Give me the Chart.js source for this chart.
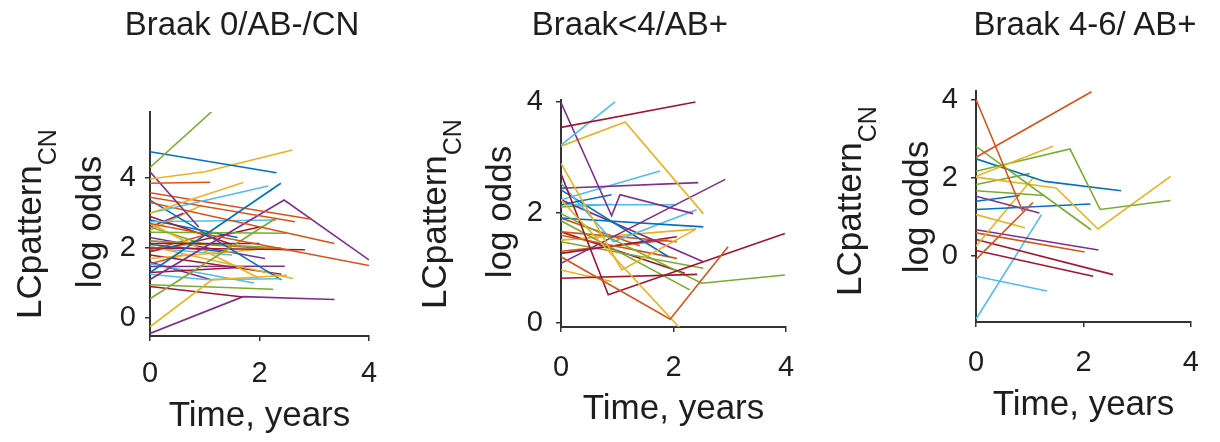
<!DOCTYPE html>
<html><head><meta charset="utf-8">
<script src="https://cdn.jsdelivr.net/npm/chart.js@4"></script>
<style>
body{margin:0;background:#fff;width:1220px;height:442px;position:relative;overflow:hidden;font-family:"Liberation Sans",Arial,sans-serif;color:#1e1e1e}
.panel{position:absolute;top:0;width:400px;height:442px}
.ttl{position:absolute;font-size:33px;line-height:33px;white-space:nowrap;transform:translateX(-50%)}
.ylab{position:absolute;font-size:35px;line-height:35px;white-space:nowrap;transform:translate(-50%,-50%) rotate(-90deg)}
.ylab span{font-size:25px;position:relative;top:15px}
</style></head>
<body>
<div class="panel" style="left:0px"><canvas id="c1" width="400" height="442"></canvas></div>
<div class="panel" style="left:420px"><canvas id="c2" width="400" height="442"></canvas></div>
<div class="panel" style="left:820px"><canvas id="c3" width="400" height="442"></canvas></div>

<div class="ttl" style="left:242px;top:7px">Braak 0/AB-/CN</div>
<div class="ttl" style="left:630px;top:7px">Braak&lt;4/AB+</div>
<div class="ttl" style="left:1085px;top:7px">Braak 4-6/ AB+</div>

<div class="ylab" style="left:30px;top:224px">LCpattern<span>CN</span></div>
<div class="ylab" style="left:88px;top:222px">log odds</div>
<div class="ylab" style="left:435px;top:214px">LCpattern<span>CN</span></div>
<div class="ylab" style="left:498px;top:212px">log odds</div>
<div class="ylab" style="left:850px;top:201px">LCpattern<span>CN</span></div>
<div class="ylab" style="left:915px;top:207px">log odds</div>

<script>
// ---- data ----
const xTicks = [0, 2, 4];
const p1YTicks = [0, 2, 4];
const p2YTicks = [0, 2, 4];
const p3YTicks = [0, 2, 4];

// Panel 1: Braak 0/AB-/CN  (each subject: [time, log odds] points)
const p1Lines = [
  [[0,4.3],[1.13,5.9]],
  [[0,4.75],[2.31,4.15]],
  [[0,3.97],[1.0,4.18],[2.6,4.8]],
  [[0,3.85],[1.1,3.88]],
  [[0,4.18],[0.89,2.6]],
  [[0,3.0],[1.7,3.87]],
  [[0,3.0],[2.16,3.77]],
  [[0,1.3],[2.39,3.85]],
  [[0,3.58],[2.95,2.82]],
  [[0,3.45],[2.65,2.75]],
  [[0,3.3],[3.37,2.13]],
  [[0,2.7],[4.0,1.5]],
  [[0,1.1],[2.45,3.37],[4.0,1.66]],
  [[0,-0.44],[1.7,0.61],[3.37,0.53]],
  [[0,-0.25],[1.13,1.09],[2.5,1.22]],
  [[0,0.55],[2.3,2.85]],
  [[0,0.9],[1.7,0.6]],
  [[0,0.95],[2.25,0.82]],
  [[0,1.25],[1.0,1.1],[2.4,1.12]],
  [[0,2.0],[2.83,1.95]],
  [[0,3.37],[2.4,1.09]],
  [[0,2.05],[2.61,1.13]],
  [[0,1.47],[2.46,1.48]],
  [[0,2.45],[2.49,2.42]],
  [[0,2.75],[2.3,2.8]],
  [[0,2.13],[2.0,2.13]],
  [[0,2.7],[1.98,1.15]],
  [[0,1.3],[1.7,1.45]],
  [[0,2.2],[2.4,2.0]],
  [[0,2.1],[1.3,1.9]],
  [[0,1.9],[2.0,2.6]],
  [[0,1.7],[2.3,2.0]],
  [[0,2.2],[2.5,1.95]],
  [[0,1.55],[1.9,1.0]],
  [[0,1.6],[1.1,1.1]],
  [[0,2.9],[1.5,2.1]],
  [[0,2.6],[1.0,2.1]],
  [[0,2.8],[1.6,2.3]],
  [[0,1.9],[0.7,2.1]],
  [[0,1.8],[2.4,1.25]],
  [[0,2.0],[1.5,1.8]],
  [[0,1.55],[0.6,1.8]],
  [[0,2.6],[0.61,2.99]],
  [[0,1.95],[1.2,2.45]],
  [[0,2.3],[2.1,1.7]],
  [[0,2.5],[0.95,3.23]]
];

// Panel 2: Braak<4/AB+
const p2Lines = [
  [[0,3.54],[2.39,4.0]],
  [[0,3.22],[0.96,4.0]],
  [[0,3.99],[0.9,1.94],[1.05,2.32],[2.35,1.98]],
  [[0,3.2],[1.14,3.64],[2.53,1.98]],
  [[0,2.89],[1.08,0.96],[2.4,1.7]],
  [[0,1.2],[1.94,0.07],[2.97,1.38]],
  [[0,2.23],[2.12,-0.1]],
  [[0,0.81],[2.42,0.88]],
  [[0,2.7],[0.84,0.51],[3.98,1.62]],
  [[0,1.98],[2.5,0.72],[3.98,0.87]],
  [[0,2.44],[2.44,2.54]],
  [[0,1.08],[2.92,2.6]],
  [[0,2.23],[1.76,2.75]],
  [[0,2.14],[0.9,2.32]],
  [[0,2.14],[2.06,2.14]],
  [[0,1.9],[2.53,1.74]],
  [[0,2.53],[0.93,1.47],[2.41,2.05]],
  [[0,2.41],[1.91,1.2]],
  [[0,2.23],[2.53,1.11]],
  [[0,2.1],[0.9,2.15]],
  [[0,1.85],[2.29,0.6]],
  [[0,1.65],[2.06,1.47]],
  [[0,1.59],[2.06,1.17]],
  [[0,1.26],[2.06,1.56]],
  [[0,1.47],[2.53,0.99]],
  [[0,0.96],[0.9,0.75]],
  [[0,1.5],[2.4,1.7]],
  [[0,1.3],[1.9,1.5]],
  [[0,1.65],[2.2,0.9]],
  [[0,1.9],[1.4,1.4]]
];

// Panel 3: Braak 4-6/ AB+
const p3Lines = [
  [[0,2.52],[2.15,4.2]],
  [[0,4.0],[0.87,1.13]],
  [[0,-0.1],[1.06,1.36]],
  [[0,2.8],[2.14,0.66]],
  [[0,2.03],[1.43,2.8]],
  [[0,2.16],[1.75,2.73],[2.31,1.18],[3.62,1.41]],
  [[0,2.48],[1.28,1.9],[2.7,1.66]],
  [[0,2.01],[1.49,1.73],[2.27,0.68],[3.62,2.03]],
  [[0,1.82],[1.0,2.1]],
  [[0,1.66],[1.28,1.54]],
  [[0,1.39],[0.81,1.54]],
  [[0,1.18],[2.13,1.32]],
  [[0,1.52],[1.18,1.09]],
  [[0,1.05],[0.91,0.71]],
  [[0,0.24],[1.06,1.99]],
  [[0,0.66],[2.28,0.14]],
  [[0,0.58],[2.02,0.09]],
  [[0,0.41],[2.55,-0.49]],
  [[0,0.13],[2.18,-0.53]],
  [[0,-0.53],[1.32,-0.91]],
  [[0,-1.63],[1.22,1.05]]
];

// ---- styles ----
const B='#0072BD', O='#D95319', Y='#EDB120', P='#7E2F8E', G='#77AC30', LB='#4DBEEE', R='#A2142F';
const p1Colors = [G,B,Y,O,P,Y,LB,B,O,O,O,O,P,P,Y,G,R,G,LB,R,B,Y,P,G,LB,R,Y,R,G,B,R,Y,O,LB,P,R,G,B,Y,R,LB,O,P,O,P,Y];
const p2Colors = [R,LB,P,Y,Y,O,Y,R,R,G,P,P,LB,B,LB,B,LB,B,P,G,G,O,O,R,G,Y,Y,O,R,O];
const p3Colors = [O,O,O,G,Y,G,B,Y,G,G,B,B,P,Y,Y,P,O,R,R,LB,LB];

const FONT = '"Liberation Sans", Arial, sans-serif';
const AX = '#333';

function makeChart(id, lines, colors, yMin, yMax, yTicks, cfg) {
  new Chart(document.getElementById(id), {
    type: 'scatter',
    data: {
      datasets: lines.map((pts, i) => ({
        data: pts.map(p => ({x: p[0], y: p[1]})),
        showLine: true,
        borderColor: colors[i],
        backgroundColor: colors[i],
        borderWidth: 1.6,
        pointRadius: 0,
        fill: false
      }))
    },
    options: {
      animation: false,
      responsive: false,
      devicePixelRatio: 1,
      layout: {padding: {left: cfg.l, right: cfg.r, top: cfg.t, bottom: 0}},
      plugins: {legend: {display: false}, tooltip: {enabled: false}},
      scales: {
        x: {
          type: 'linear', min: 0, max: 4,
          afterBuildTicks: s => { s.ticks = xTicks.map(v => ({value: v})); },
          afterFit: s => { s.height = cfg.xh; },
          border: {display: true, color: AX, width: 2},
          grid: {display: true, drawOnChartArea: false, drawTicks: true, tickLength: 5, color: AX, lineWidth: 1.5},
          ticks: {font: {size: 29, family: FONT, lineHeight: 1}, color: '#1e1e1e', padding: cfg.xtp, maxRotation: 0},
          title: {display: true, text: 'Time, years', font: {size: 35, family: FONT, lineHeight: 1}, color: '#1e1e1e', padding: {top: 0, bottom: cfg.xtt}}
        },
        y: {
          type: 'linear', min: yMin, max: yMax,
          afterBuildTicks: s => { s.ticks = yTicks.map(v => ({value: v})); },
          afterFit: s => { s.width = 60; },
          border: {display: true, color: AX, width: 2},
          grid: {display: true, drawOnChartArea: false, drawTicks: true, tickLength: 5, color: AX, lineWidth: 1.5},
          ticks: {font: {size: 29, family: FONT, lineHeight: 1}, color: '#1e1e1e', padding: cfg.ytp}
        }
      }
    }
  });
}

makeChart('c1', p1Lines, p1Colors, -0.514, 5.886, p1YTicks, {l: 90, r: 31, t: 112, xh: 106, xtp: 18, xtt: 8, ytp: 9});
makeChart('c2', p2Lines, p2Colors, -0.072, 4.036, p2YTicks, {l: 81, r: 34, t: 100, xh: 115, xtp: 21, xtt: 15, ytp: 13});
makeChart('c3', p3Lines, p3Colors, -1.705, 4.218, p3YTicks, {l: 96, r: 18, t: 91, xh: 120, xtp: 21, xtt: 19, ytp: 13});
</script>
</body></html>
